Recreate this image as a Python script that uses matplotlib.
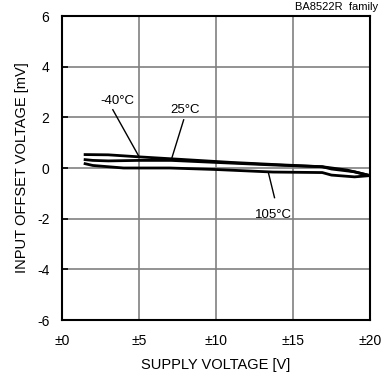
import matplotlib
matplotlib.use("Agg")
import matplotlib.pyplot as plt

plt.rcParams['font.family'] = ['Liberation Sans', 'DejaVu Sans']
plt.rcParams['axes.unicode_minus'] = False

# Data
v_m40 = [1.5, 3.0, 5.0, 8.0, 11.0, 13.7, 16.9, 18.5, 20.0]
o_m40 = [0.53, 0.52, 0.44, 0.33, 0.22, 0.14, 0.05, -0.08, -0.30]
v_25 = [1.5, 2.0, 3.0, 5.0, 7.1, 10.0, 13.7, 16.9, 17.5, 19.0, 20.0]
o_25 = [0.33, 0.30, 0.28, 0.30, 0.30, 0.22, 0.12, 0.05, -0.04, -0.15, -0.30]
v_105 = [1.5, 2.0, 4.0, 7.0, 10.0, 13.7, 16.9, 17.5, 19.0, 20.0]
o_105 = [0.17, 0.10, 0.00, 0.00, -0.06, -0.16, -0.18, -0.28, -0.35, -0.30]

xticks = [0, 5, 10, 15, 20]
xticklabels = ['±0', '±5', '±10', '±15', '±20']
yticks = [-6, -4, -2, 0, 2, 4, 6]

fig = plt.figure(figsize=(3.9, 3.78), dpi=100)
ax = fig.add_axes([62/390, 58/378, 308/390, 304/378])

for v, o in [(v_m40, o_m40), (v_25, o_25), (v_105, o_105)]:
    ax.plot(v, o, color='black', lw=2.0, solid_joinstyle='round')

ax.set_xlim(0, 20)
ax.set_ylim(-6, 6)
ax.set_xticks(xticks)
ax.set_xticklabels(xticklabels)
ax.set_yticks(yticks)
ax.grid(True, color='#808080', lw=1.2)
ax.tick_params(axis='x', length=0, pad=10, labelsize=10)
ax.tick_params(axis='y', direction='in', length=4, width=1.2, pad=9, labelsize=10)
for s in ax.spines.values():
    s.set_linewidth(1.5)

ax.set_xlabel('SUPPLY VOLTAGE [V]', fontsize=10.5, labelpad=7)
ax.set_ylabel('INPUT OFFSET VOLTAGE [mV]', fontsize=10.5, labelpad=6)

fs = 9.5
ax.text(3.6, 2.66, '-40°C', ha='center', va='center', fontsize=fs)
ax.plot([3.3, 5.0], [2.3, 0.45], color='black', lw=1.0)
ax.text(8.0, 2.3, '25°C', ha='center', va='center', fontsize=fs)
ax.plot([7.9, 7.1], [1.9, 0.33], color='black', lw=1.0)
ax.text(13.7, -1.84, '105°C', ha='center', va='center', fontsize=fs)
ax.plot([13.8, 13.4], [-1.17, -0.18], color='black', lw=1.0)

fig.text(378/390, 1 - 7/378, 'BA8522R  family', ha='right', va='center', fontsize=8)

fig.savefig('out.png', dpi=100)
